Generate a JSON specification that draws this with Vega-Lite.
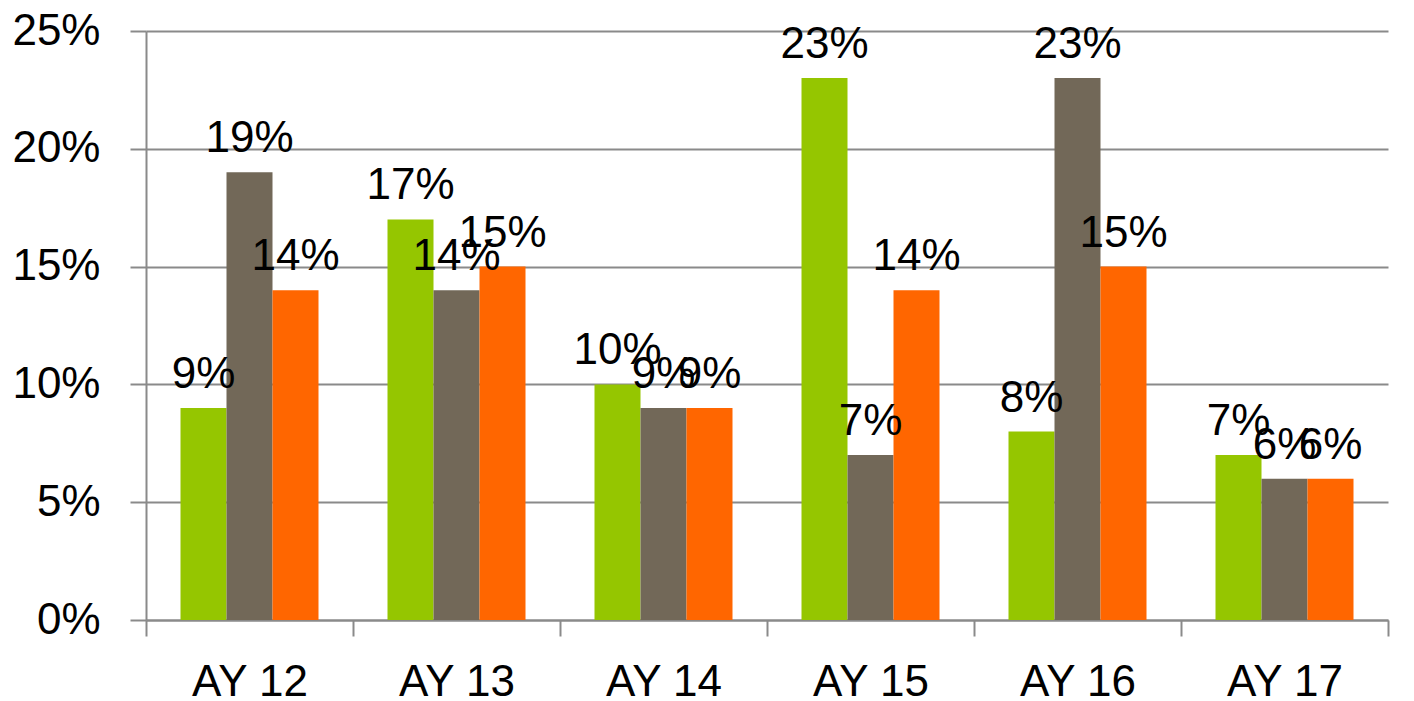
{
  "$schema": "https://vega.github.io/schema/vega-lite/v6.json",
  "width": 1242,
  "height": 589,
  "autosize": {"type": "none"},
  "padding": {"left": 146, "top": 31, "right": 26, "bottom": 81},
  "background": "white",
  "config": {"view": {"stroke": null}, "font": "Liberation Sans"},
  "data": {
    "values": [
      {"year": "AY 12", "series": "Series 1", "value": 0.09},
      {"year": "AY 12", "series": "Series 2", "value": 0.19},
      {"year": "AY 12", "series": "Series 3", "value": 0.14},
      {"year": "AY 13", "series": "Series 1", "value": 0.17},
      {"year": "AY 13", "series": "Series 2", "value": 0.14},
      {"year": "AY 13", "series": "Series 3", "value": 0.15},
      {"year": "AY 14", "series": "Series 1", "value": 0.10},
      {"year": "AY 14", "series": "Series 2", "value": 0.09},
      {"year": "AY 14", "series": "Series 3", "value": 0.09},
      {"year": "AY 15", "series": "Series 1", "value": 0.23},
      {"year": "AY 15", "series": "Series 2", "value": 0.07},
      {"year": "AY 15", "series": "Series 3", "value": 0.14},
      {"year": "AY 16", "series": "Series 1", "value": 0.08},
      {"year": "AY 16", "series": "Series 2", "value": 0.23},
      {"year": "AY 16", "series": "Series 3", "value": 0.15},
      {"year": "AY 17", "series": "Series 1", "value": 0.07},
      {"year": "AY 17", "series": "Series 2", "value": 0.06},
      {"year": "AY 17", "series": "Series 3", "value": 0.06}
    ]
  },
  "encoding": {
    "x": {
      "field": "year", "type": "nominal", "sort": null,
      "scale": {"paddingInner": 0, "paddingOuter": 0},
      "axis": {
        "title": null, "labelAngle": 0, "tickBand": "extent", "tickSize": 16,
        "tickColor": "#8a8a8a", "tickWidth": 2, "domainColor": "#8a8a8a", "domainWidth": 2,
        "labelFontSize": 44, "labelPadding": 24, "labelColor": "#000000", "grid": false
      }
    },
    "xOffset": {
      "field": "series", "type": "nominal", "sort": null,
      "scale": {"paddingInner": 0, "paddingOuter": 0.75}
    },
    "y": {
      "field": "value", "type": "quantitative",
      "scale": {"domain": [0, 0.25], "nice": false},
      "axis": {
        "title": null, "format": ".0%", "values": [0, 0.05, 0.1, 0.15, 0.2, 0.25],
        "grid": true, "gridColor": "#8a8a8a", "gridWidth": 2,
        "domainColor": "#8a8a8a", "domainWidth": 2,
        "tickColor": "#8a8a8a", "tickWidth": 2, "tickSize": 16,
        "labelFontSize": 44, "labelPadding": 30, "labelColor": "#000000"
      }
    }
  },
  "layer": [
    {
      "mark": {"type": "bar"},
      "encoding": {
        "color": {
          "field": "series", "type": "nominal", "legend": null,
          "scale": {"range": ["#95C600", "#726858", "#FF6600"]}
        }
      }
    },
    {
      "mark": {"type": "text", "dy": -20, "baseline": "alphabetic", "fontSize": 44, "color": "#000000"},
      "encoding": {"text": {"field": "value", "type": "quantitative", "format": ".0%"}}
    }
  ]
}
